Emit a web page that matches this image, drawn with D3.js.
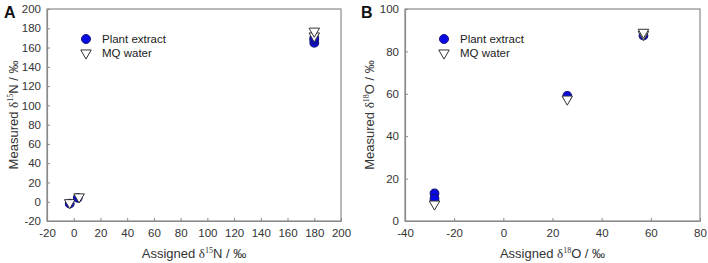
<!DOCTYPE html>
<html>
<head>
<meta charset="utf-8">
<script src="https://cdn.jsdelivr.net/npm/d3@7"></script>
<style>
  body { margin: 0; background: #fff; }
  svg { font-family: "Liberation Sans", Arial, sans-serif; }
</style>
</head>
<body>
<svg width="708" height="263"></svg>
<script>
// Panel A - delta 15N
const nXTicks = [-20, 0, 20, 40, 60, 80, 100, 120, 140, 160, 180, 200];
const nYTicks = [-20, 0, 20, 40, 60, 80, 100, 120, 140, 160, 180, 200];
const nPlantX = [-3, 3, 180, 180, 180];
const nPlantY = [-2, 4, 165, 168, 170];
const nWaterX = [-3, 4, 180, 180];
const nWaterY = [-1, 5, 172, 177];

// Panel B - delta 18O
const oXTicks = [-40, -20, 0, 20, 40, 60, 80];
const oYTicks = [0, 20, 40, 60, 80, 100];
const oPlantX = [-28, -28, 26, 57];
const oPlantY = [13, 10.5, 59, 87.5];
const oWaterX = [-28, 26, 57, 57];
const oWaterY = [8, 57.5, 88, 89];

const seriesNames = ["Plant extract", "MQ water"];

const svg = d3.select("svg");
const axisColor = "#8a8a8a";
const triangle = d3.symbol().type(d3.symbolTriangle).size(48);
const plain = d => String(d);  // keep a plain hyphen for negatives

function panel(opts) {
    const g = svg.append("g");
    const x = d3.scaleLinear().domain(opts.xDomain).range([opts.left, opts.right]);
    const y = d3.scaleLinear().domain(opts.yDomain).range([221, 9]);

    // frame
    g.append("rect")
        .attr("x", opts.left).attr("y", 9)
        .attr("width", opts.right - opts.left).attr("height", 212)
        .attr("fill", "none").attr("stroke", axisColor).attr("stroke-width", 1.2);

    // x axis, ticks point inward
    const xa = g.append("g")
        .attr("transform", "translate(0,221)")
        .call(d3.axisBottom(x).tickValues(opts.xTicks).tickFormat(plain)
            .tickSizeInner(-3).tickSizeOuter(0).tickPadding(8));
    xa.select(".domain").attr("stroke", axisColor).attr("stroke-width", 1.2);
    xa.selectAll("line").attr("stroke", axisColor);
    xa.selectAll("text").attr("fill", "#333").style("font-size", "11.5px");

    const ya = g.append("g")
        .attr("transform", "translate(" + opts.left + ",0)")
        .call(d3.axisLeft(y).tickValues(opts.yTicks).tickFormat(plain)
            .tickSizeInner(-3).tickSizeOuter(0).tickPadding(6));
    ya.select(".domain").attr("stroke", axisColor).attr("stroke-width", 1.2);
    ya.selectAll("line").attr("stroke", axisColor);
    ya.selectAll("text").attr("fill", "#333").style("font-size", "11.5px");

    // points
    g.selectAll(".plant")
        .data(d3.zip(opts.plantX, opts.plantY))
        .enter().append("circle")
        .attr("cx", d => x(d[0]))
        .attr("cy", d => y(d[1]))
        .attr("r", 4.3)
        .attr("fill", "#0a0ae6")
        .attr("stroke", "#15157a")
        .attr("stroke-width", 1.2);

    g.selectAll(".water")
        .data(d3.zip(opts.waterX, opts.waterY))
        .enter().append("path")
        .attr("d", triangle)
        .attr("transform", d => "translate(" + x(d[0]) + "," + y(d[1]) + ") rotate(180)")
        .attr("fill", "#fff")
        .attr("stroke", "#333")
        .attr("stroke-width", 1);

    // legend
    const lg = g.append("g").attr("transform", "translate(" + opts.legendX + ",0)");
    lg.append("circle").attr("cx", 0).attr("cy", 39).attr("r", 4.5)
        .attr("fill", "#0a0ae6").attr("stroke", "#15157a");
    lg.append("path").attr("d", triangle)
        .attr("transform", "translate(0,53) rotate(180)")
        .attr("fill", "#fff").attr("stroke", "#333");
    lg.selectAll("text.leg")
        .data(seriesNames)
        .enter().append("text")
        .attr("x", 16)
        .attr("y", (d, i) => 43 + i * 14)
        .attr("fill", "#222")
        .style("font-size", "11.5px")
        .text(d => d);

    // axis titles
    const xt = g.append("text")
        .attr("x", (opts.left + opts.right) / 2)
        .attr("y", 258)
        .attr("text-anchor", "middle")
        .attr("fill", "#333")
        .style("font-size", "13px");
    xt.append("tspan").text("Assigned ");
    xt.append("tspan").style("font-family", "Liberation Serif, serif").text("δ");
    xt.append("tspan").attr("dy", -5).style("font-size", "8px").style("font-family", "Liberation Serif, serif").text(opts.iso);
    xt.append("tspan").attr("dy", 5).text(opts.elem + " / ‰");

    const yt = g.append("text")
        .attr("transform", "translate(" + opts.yTitleX + ",115) rotate(-90)")
        .attr("text-anchor", "middle")
        .attr("fill", "#333")
        .style("font-size", "13px");
    yt.append("tspan").text("Measured ");
    yt.append("tspan").style("font-family", "Liberation Serif, serif").text("δ");
    yt.append("tspan").attr("dy", -5).style("font-size", "8px").style("font-family", "Liberation Serif, serif").text(opts.iso);
    yt.append("tspan").attr("dy", 5).text(opts.elem + " / ‰");

    // panel letter
    g.append("text")
        .attr("x", opts.letterX).attr("y", 18)
        .style("font-size", "16px").style("font-weight", "bold")
        .attr("fill", "#111")
        .text(opts.letter);
}

panel({
    left: 47, right: 341, xDomain: [-20, 200], yDomain: [-20, 200],
    xTicks: nXTicks, yTicks: nYTicks,
    plantX: nPlantX, plantY: nPlantY, waterX: nWaterX, waterY: nWaterY,
    legendX: 86, iso: "15", elem: "N", yTitleX: 18, letter: "A", letterX: 4
});

panel({
    left: 405, right: 700, xDomain: [-40, 80], yDomain: [0, 100],
    xTicks: oXTicks, yTicks: oYTicks,
    plantX: oPlantX, plantY: oPlantY, waterX: oWaterX, waterY: oWaterY,
    legendX: 444, iso: "18", elem: "O", yTitleX: 374, letter: "B", letterX: 361
});
</script>
</body>
</html>
